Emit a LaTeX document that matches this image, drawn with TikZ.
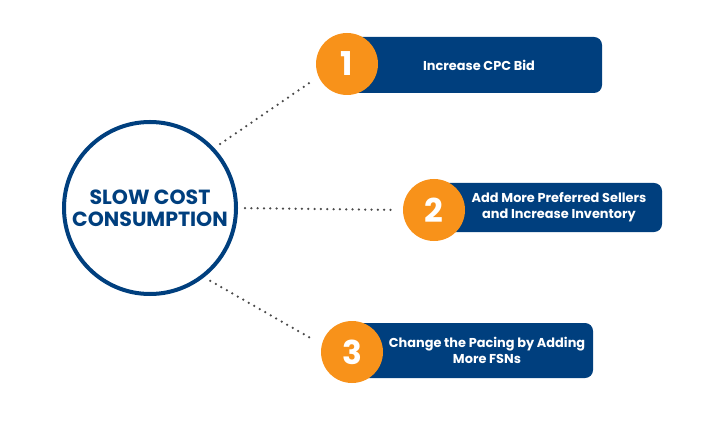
\documentclass[tikz,border=0pt]{standalone}
\usepackage{fontspec}
\setmainfont{Poppins}
\usetikzlibrary{
positioning,
calc
}
\definecolor{navy}{HTML}{003F7E}
\definecolor{orng}{HTML}{F8921A}
\definecolor{dotgray}{HTML}{4A4A4A}

\tikzset{
hubcircle/.style={circle, draw=navy, line width=0.12cm, minimum size=5.16cm, inner sep=0pt, align=center, text=navy, font=\bfseries\fontsize{17.5}{19}\selectfont},
numcircle/.style={circle, fill=orng, minimum size=1.86cm, inner sep=0pt, text=white, font=\bfseries\fontsize{28}{28}\selectfont},
stepbox/.style={rectangle, fill=navy, rounded corners=0.24cm, inner sep=0pt},
boxtext/.style={align=center, text=white, font=\bfseries\fontsize{11}{13.5}\selectfont},
dotline/.style={dotgray, line width=0.075cm, line cap=round, dash pattern=on 0pt off 5.4pt, shorten <=6pt, shorten >=7pt}
}

\begin{document}
\begin{tikzpicture}[x=0.03cm, y=-0.03cm]
\useasboundingbox (0,0) rectangle (712,430);

% kasten
\node[stepbox, minimum width=7.65cm, minimum height=1.68cm] (box1) at (474.5,65) {};
\node[stepbox, minimum width=6.84cm, minimum height=1.47cm] (box2) at (548,207.5) {};
\node[stepbox, minimum width=7.23cm, minimum height=1.65cm] (box3) at (472.5,350.5) {};

\node[boxtext] (txt1) at (479,65) {Increase CPC Bid};
\node[boxtext] (txt2) at (559,207) {Add More Preferred Sellers\\and Increase Inventory};
\node[boxtext] (txt3) at (487,350) {Change the Pacing by Adding\\More FSNs};

% nummern
\node[numcircle] (num1) at (347,64) {1};
\node[numcircle] (num2) at (434,210) {2};
\node[numcircle] (num3) at (352,352) {3};

% mitte
\node[hubcircle] (hub) at (150,208) {SLOW COST\\CONSUMPTION};

\draw[dotline] (hub.43) -- (num1.204);
\draw[dotline] (hub.0) -- (num2.180);
\draw[dotline] (hub.-52) -- (num3.166);
\end{tikzpicture}
\end{document}
